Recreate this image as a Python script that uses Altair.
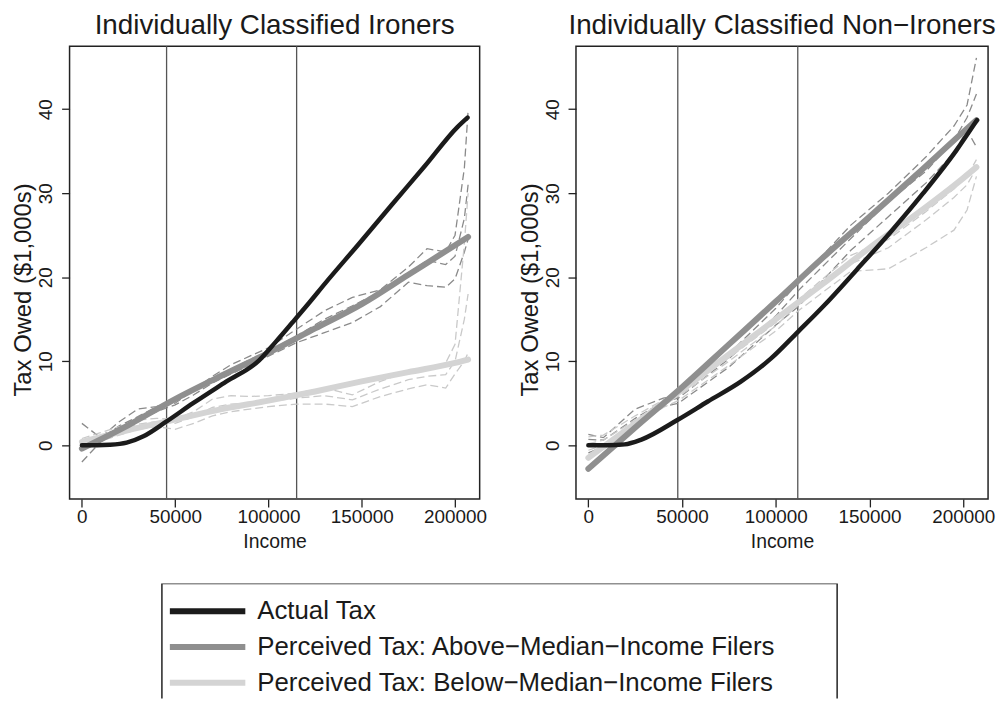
import altair as alt
import pandas as pd

FONT = "Liberation Sans"

# ---------------- shared axis values ----------------
X_TICKS = [0, 50000, 100000, 150000, 200000]
Y_TICKS = [0, 10, 20, 30, 40]
X_DOMAIN = [-6600, 213200]
Y_DOMAIN = [-6.4, 47.5]

TITLE_LEFT = "Individually Classified Ironers"
TITLE_RIGHT = "Individually Classified Non\u2212Ironers"

LEGEND_LABELS = ["Actual Tax",
                 "Perceived Tax: Above\u2212Median\u2212Income Filers",
                 "Perceived Tax: Below\u2212Median\u2212Income Filers"]
LEGEND_COLORS = ["#1b1b1b", "#8f8f8f", "#d4d4d4"]

# ---------------- left panel: Ironers ----------------
L_VLINES = [45400, 115100]

L_ACT_X = [0, 8000, 15000, 24000, 33000, 45400, 59600, 77300, 95000, 103900,
           112800, 121600, 130500, 148200, 166000, 183700, 201400, 206700]
L_ACT_Y = [0, 0, 0.05, 0.3, 1.06, 2.83, 5.0, 7.56, 10.1, 12.3,
           14.6, 16.9, 19.3, 23.9, 28.6, 33.2, 37.9, 39.0]

L_ABV_X = [0, 25000, 50000, 75000, 100000, 125000, 150000, 175000, 200000, 207000]
L_ABV_Y = [-0.4, 2.4, 5.5, 8.3, 11.0, 13.9, 16.8, 20.3, 23.8, 24.8]

L_BLW_X = [0, 25000, 45000, 75000, 100000, 125000, 150000, 175000, 200000, 207000]
L_BLW_Y = [0.4, 1.8, 2.8, 4.3, 5.3, 6.4, 7.6, 8.7, 9.8, 10.2]

D_X = [0, 10000, 20000, 30000, 40000, 50000, 60000, 70000, 80000, 90000, 100000,
       115000, 130000, 145000, 160000, 175000, 185000, 195000, 200000, 205000, 207000]

L_ABV_HI = [2.6, 0.9, 2.8, 4.3, 4.6, 5.0, 6.6, 8.2, 9.6, 10.6, 11.6,
            13.8, 16.0, 17.6, 18.5, 21.2, 23.4, 23.0, 25.0, 33.0, 39.8]
L_ABV_MD = [0.5, 0.8, 2.3, 3.4, 4.6, 5.3, 6.6, 7.6, 9.0, 10.2, 11.2,
            13.0, 15.0, 16.6, 18.3, 20.5, 22.0, 21.5, 22.5, 27.0, 31.0]
L_ABV_LO = [-2.0, 0.4, 1.5, 2.8, 4.0, 4.8, 6.0, 7.4, 8.5, 9.5, 10.6,
            12.2, 13.4, 14.6, 16.5, 19.4, 19.0, 18.8, 19.8, 23.0, 24.5]

L_BLW_HI = [0.8, 1.5, 2.2, 3.0, 3.2, 3.1, 4.0, 5.5, 5.9, 5.8, 5.9,
            6.2, 6.8, 6.0, 7.6, 8.8, 9.2, 9.8, 12.0, 24.0, 30.0]
L_BLW_MD = [0.5, 1.0, 1.8, 2.5, 2.8, 2.6, 3.4, 4.5, 4.9, 5.0, 5.2,
            5.6, 5.9, 5.4, 6.7, 7.8, 8.2, 8.4, 10.0, 15.0, 18.0]
L_BLW_LO = [0.2, 0.5, 1.2, 1.9, 2.2, 1.9, 2.6, 3.5, 4.0, 4.3, 4.6,
            4.9, 4.9, 4.6, 5.8, 6.7, 7.2, 6.8, 8.5, 10.0, 11.0]

# ---------------- right panel: Non-Ironers ----------------
R_VLINES = [47700, 111700]

R_ACT_X = [0, 10000, 19400, 28300, 47700, 63700, 81300, 97300, 111800,
           125600, 143200, 160900, 178600, 196300, 207300]
R_ACT_Y = [0, 0, 0.1, 0.67, 3.03, 5.2, 7.56, 10.3, 13.5,
           16.6, 20.9, 25.3, 30.0, 35.1, 38.7]

R_ABV_X = [0, 25000, 50000, 75000, 100000, 125000, 150000, 175000, 200000, 207000]
R_ABV_Y = [-2.8, 2.1, 6.9, 12.0, 17.1, 22.3, 27.2, 32.2, 37.3, 38.7]

R_BLW_X = [0, 25000, 50000, 75000, 100000, 125000, 150000, 175000, 200000, 207000]
R_BLW_Y = [-1.5, 2.6, 6.6, 10.8, 15.0, 19.2, 23.5, 27.5, 31.8, 33.1]

R_D_X = [0, 8000, 25000, 40000, 48000, 75000, 100000, 112000, 125000, 140000,
         160000, 180000, 195000, 202000, 207000]
R_ABV_HI = [1.3, 0.9, 4.3, 5.6, 6.0, 10.9, 16.3, 19.4, 22.6, 26.2,
            30.0, 34.3, 38.0, 40.5, 46.1]
R_ABV_MD = [0.7, 0.6, 3.2, 5.2, 5.6, 10.3, 15.4, 18.4, 21.3, 24.6,
            29.0, 32.6, 36.3, 39.0, 41.8]
R_ABV_LO = [-0.9, -0.2, 2.3, 4.6, 5.0, 9.3, 14.3, 16.5, 19.6, 23.2,
            27.2, 31.2, 34.8, 37.5, 35.5]

R_BLW_HI = [1.0, 1.2, 3.5, 5.4, 6.2, 10.4, 14.6, 17.3, 19.8, 22.6,
            24.5, 27.8, 30.5, 32.0, 34.0]
R_BLW_MD = [0.2, 0.6, 3.0, 5.0, 5.8, 10.0, 14.2, 16.8, 19.2, 21.6,
            23.5, 26.8, 29.5, 31.0, 33.0]
R_BLW_LO = [-0.6, 0.0, 2.5, 4.5, 5.3, 9.5, 13.6, 16.0, 18.2, 20.7,
            21.0, 23.5, 25.6, 28.0, 32.0]


def rows(xs, ys, series):
    return [{"income": x, "tax": y, "series": series} for x, y in zip(xs, ys)]


def panel(title, vlines, act, abv, blw, dx, dashes_abv, dashes_blw, width, yaxis_title_x):
    solid = pd.DataFrame(rows(*act, "actual") + rows(*abv, "above") + rows(*blw, "below"))
    dash = []
    for name, ys in zip(["ahi", "amd", "alo"], dashes_abv):
        dash += [dict(r, grp="above") for r in rows(dx, ys, name)]
    for name, ys in zip(["bhi", "bmd", "blo"], dashes_blw):
        dash += [dict(r, grp="below") for r in rows(dx, ys, name)]
    dash = pd.DataFrame(dash)
    vl = pd.DataFrame({"income": vlines})

    xs = alt.Scale(domain=X_DOMAIN, nice=False, zero=False)
    ys = alt.Scale(domain=Y_DOMAIN, nice=False, zero=False)
    xax = alt.Axis(values=X_TICKS, format="d", labelFlush=False, labelOverlap=False,
                   title="Income", titleFontSize=19.5, labelPadding=1,
                   titleY=43, titleBaseline="middle")
    yax = alt.Axis(values=Y_TICKS, labelAngle=270, labelAlign="center",
                   labelBaseline="bottom", labelPadding=6,
                   title="Tax Owed ($1,000s)", titleFontSize=24, titleAngle=270,
                   titleX=yaxis_title_x, titleY=245, titleAlign="center",
                   titleBaseline="middle")

    rules = alt.Chart(vl).mark_rule(color="#555555", strokeWidth=1.3).encode(
        x=alt.X("income:Q", scale=xs, axis=xax))
    dashed = alt.Chart(dash).mark_line(strokeWidth=1.3, strokeDash=[8, 4]).encode(
        x=alt.X("income:Q", scale=xs, axis=xax),
        y=alt.Y("tax:Q", scale=ys, axis=yax),
        detail="series:N",
        color=alt.Color("grp:N", scale=alt.Scale(domain=["above", "below"],
                                                 range=["#8a8a8a", "#c9c9c9"]),
                        legend=None),
    )

    def solid_line(s, color, w):
        return alt.Chart(solid).transform_filter(alt.datum.series == s).mark_line(
            color=color, strokeWidth=w, strokeCap="round", interpolate="monotone").encode(
            x=alt.X("income:Q", scale=xs, axis=xax),
            y=alt.Y("tax:Q", scale=ys, axis=yax))

    return alt.layer(
        rules, dashed,
        solid_line("below", LEGEND_COLORS[2], 6),
        solid_line("above", LEGEND_COLORS[1], 6),
        solid_line("actual", LEGEND_COLORS[0], 4.5),
    ).properties(
        width=width, height=456,
        view=alt.ViewBackground(stroke="#222", strokeWidth=1.5),
        title=alt.TitleParams(title, fontSize=28, font=FONT, fontWeight="normal",
                              offset=6, color="#1a1a1a", anchor="middle"),
    )


left = panel(TITLE_LEFT, L_VLINES, (L_ACT_X, L_ACT_Y), (L_ABV_X, L_ABV_Y),
             (L_BLW_X, L_BLW_Y), D_X, [L_ABV_HI, L_ABV_MD, L_ABV_LO],
             [L_BLW_HI, L_BLW_MD, L_BLW_LO], 413, -46)
right = panel(TITLE_RIGHT, R_VLINES, (R_ACT_X, R_ACT_Y), (R_ABV_X, R_ABV_Y),
              (R_BLW_X, R_BLW_Y), R_D_X, [R_ABV_HI, R_ABV_MD, R_ABV_LO],
              [R_BLW_HI, R_BLW_MD, R_BLW_LO], 415, -46)

# ---------------- legend ----------------
leg = pd.DataFrame({"label": LEGEND_LABELS, "row": [0, 1, 2], "color": LEGEND_COLORS})
ly = alt.Y("row:Q", scale=alt.Scale(domain=[-0.778, 2.444], reverse=True), axis=None)
box = alt.Chart(pd.DataFrame({"a": [0]})).mark_rect(
    fill="transparent", stroke="#222", strokeWidth=1.5, clip=True).encode(
    x=alt.value(93), x2=alt.value(773), y=alt.value(0), y2=alt.value(160))
sw = alt.Chart(leg).mark_rule(strokeWidth=6).encode(
    x=alt.value(101), x2=alt.value(177), y=ly,
    color=alt.Color("color:N", scale=None))
txt = alt.Chart(leg).mark_text(align="left", baseline="middle", font=FONT,
                               fontSize=26, color="#1a1a1a").encode(
    x=alt.value(189), y=ly, text="label:N")
legend = alt.layer(box, sw, txt).properties(
    width=776, height=116, view=alt.ViewBackground(stroke="transparent"))

chart = alt.vconcat(
    alt.hconcat(left, right, spacing=30).resolve_scale(color="independent"),
    legend, spacing=30,
).properties(
    padding={"left": 3, "top": 0, "right": 0, "bottom": 0},
).configure_view(
    stroke="transparent"
).configure_axis(
    domain=False, grid=False, tickColor="#222", tickSize=8, tickWidth=1.3,
    labelFont=FONT, labelFontSize=19, labelColor="#1a1a1a",
    titleFont=FONT, titleColor="#1a1a1a", titleFontWeight="normal",
)

chart.save("out.html", embed_options={"renderer": "svg", "actions": False})
